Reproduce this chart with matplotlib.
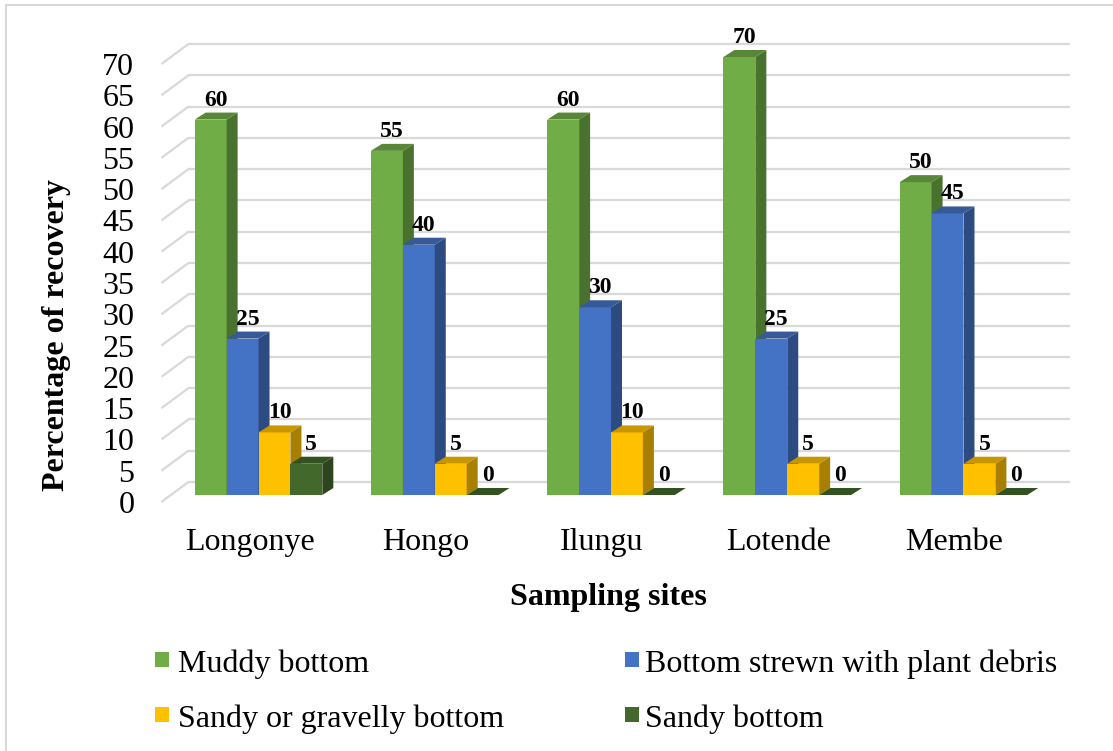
import matplotlib
matplotlib.use("Agg")
import matplotlib.pyplot as plt
from matplotlib.patches import Polygon, Rectangle
import numpy as np

sites = ["Longonye", "Hongo", "Ilungu", "Lotende", "Membe"]
series_names = ["Muddy bottom", "Bottom strewn with plant debris",
                "Sandy or gravelly bottom", "Sandy bottom"]
muddy = [60, 55, 60, 70, 50]
plant_debris = [25, 40, 30, 25, 45]
sandy_gravelly = [10, 5, 10, 5, 5]
sandy = [5, 0, 0, 0, 0]
series = [muddy, plant_debris, sandy_gravelly, sandy]
colors = ["#70AD47", "#4472C4", "#FFC000", "#43682B"]

FONT = "Liberation Serif"
plt.rcParams['font.family'] = [FONT, 'DejaVu Serif']

W, H = 1113, 751
fig = plt.figure(figsize=(W / 100, H / 100), dpi=100)

# front plane of the 3D box
left_px, right_px, bottom_px, top_px = 161.4, 1042.6, 502, 64
ax = fig.add_axes([left_px / W, (H - bottom_px) / H,
                   (right_px - left_px) / W, (bottom_px - top_px) / H])
ax.set_xlim(-0.5, 4.5)
ax.set_ylim(0, 70)
for s in ax.spines.values():
    s.set_visible(False)
ax.patch.set_visible(False)

ux = (right_px - left_px) / 5.0       # px per x unit
uy = (bottom_px - top_px) / 70.0      # px per y unit

def off(dxp, dyp):
    return dxp / ux, dyp / uy

wall_dx, wall_dy = off(27, 20)
bar_fx, bar_fy = off(9, 7)
bar_dx, bar_dy = off(11, 7)

grid_c = "#D9D9D9"
for v in range(0, 71, 5):
    ax.plot([-0.5, -0.5 + wall_dx], [v, v + wall_dy], color=grid_c, lw=1.6,
            clip_on=False, zorder=1, solid_capstyle='butt')
    ax.plot([-0.5 + wall_dx, 4.5 + wall_dx], [v + wall_dy, v + wall_dy],
            color=grid_c, lw=1.6, clip_on=False, zorder=1, solid_capstyle='butt')

def shade(c, f):
    rgb = np.array(matplotlib.colors.to_rgb(c))
    return tuple(rgb * f)

bw = 0.181
for i in range(len(sites)):
    for j, (vals, col) in enumerate(zip(series, colors)):
        v = vals[i]
        x0 = i + (j - 2) * bw + bar_fx
        x1 = x0 + bw
        y0 = bar_fy
        y1 = v + bar_fy
        z = 3
        if v > 0:
            ax.add_patch(Rectangle((x0, y0), bw, v, facecolor=col,
                                   edgecolor='none', clip_on=False, zorder=z))
            ax.add_patch(Polygon([(x1, y0), (x1 + bar_dx, y0 + bar_dy),
                                  (x1 + bar_dx, y1 + bar_dy), (x1, y1)],
                                 closed=True, facecolor=shade(col, 0.66),
                                 edgecolor='none', clip_on=False, zorder=z))
        ax.add_patch(Polygon([(x0, y1), (x1, y1), (x1 + bar_dx, y1 + bar_dy),
                              (x0 + bar_dx, y1 + bar_dy)],
                             closed=True, facecolor=shade(col, 0.78),
                             edgecolor='none', clip_on=False, zorder=z))
        ax.annotate(str(v), xy=(x0 + bw / 2, y1 + bar_dy), xytext=(5, 7),
                    textcoords='offset pixels', ha='center', va='baseline',
                    fontsize=17, fontweight='bold', color='black',
                    annotation_clip=False, zorder=6)

ax.set_yticks(range(0, 71, 5))
ax.tick_params(axis='y', length=0, pad=19.5, labelsize=23)
ax.set_xticks(range(len(sites)))
ax.set_xticklabels(sites)
ax.tick_params(axis='x', length=0, pad=19, labelsize=23)

fig.text(608 / W, 1 - 598 / H, "Sampling sites", ha='center', va='center',
         fontsize=23, fontweight='bold')
fig.text(57 / W, 1 - 335 / H, "Percentage of recovery", ha='center',
         va='center', rotation=90, fontsize=23, fontweight='bold')

# legend
leg_pos = [(155, 652, 178, 672), (625, 652, 645, 672),
           (155, 707, 178, 727), (625, 707, 645, 727)]
for (sx, sy, tx, ty), name, col in zip(leg_pos, series_names, colors):
    fig.patches.append(Rectangle((sx / W, 1 - (sy + 15) / H), 14 / W, 15 / H,
                                 transform=fig.transFigure, facecolor=col,
                                 edgecolor='none'))
    fig.text(tx / W, 1 - ty / H, name, ha='left', va='baseline', fontsize=23)

# chart border
fig.patches.append(Rectangle((6 / W, -0.1), 1.2, 1 - 5 / H + 0.1,
                             transform=fig.transFigure, facecolor='none',
                             edgecolor='#D9D9D9', lw=1.5))

fig.savefig("out.png", dpi=100)
